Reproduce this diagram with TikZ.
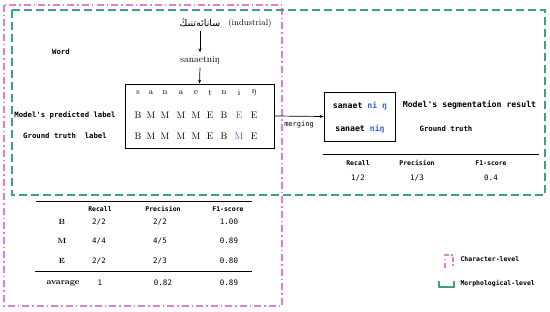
\documentclass[tikz,border=0pt]{standalone}
\usepackage{fontspec}
\setmonofont{DejaVu Sans Mono}
\newfontfamily\arabicfont[Script=Arabic]{DejaVu Sans}
\TeXXeTstate=1
\usepackage{tikz}
\usetikzlibrary{arrows.meta,positioning}
\definecolor{charpink}{RGB}{228,120,228}
\definecolor{morphteal}{RGB}{60,160,145}
\definecolor{segblue}{RGB}{50,100,215}

\begin{document}
\begin{tikzpicture}[x=1pt, y=-1pt,
    charframe/.style={draw=charpink, line width=1.5pt,
                      dash pattern=on 7pt off 3pt on 1.5pt off 3pt},
    morphframe/.style={draw=morphteal, line width=1.5pt,
                       dash pattern=on 8pt off 4pt},
    tag/.style={font=\ttfamily\bfseries\fontsize{7.3}{8}\selectfont},
    head/.style={font=\ttfamily\bfseries\fontsize{6.5}{7}\selectfont},
    val/.style={font=\ttfamily\fontsize{7.5}{8}\selectfont},
    letter/.style={font=\fontsize{9.5}{10}\selectfont},
    arrow/.style={-{Stealth[length=4pt,width=3pt]}, line width=0.7pt},
  ]
  \useasboundingbox (0,0) rectangle (550,312);
  %% Frames
  \draw[charframe]  (4,5) rectangle (282,306);
  \draw[morphframe] (12,10) rectangle (545,195);
  %% Word and its transcription
  \node[letter] (uyword) at (200,23) {\arabicfont\beginR سانائەتنىڭ\endR};
  \node[font=\fontsize{8.5}{9}\selectfont, right=1pt of uyword] {(industrial)};
  \node[letter] (latword) at (200,60) {sanaetniŋ};
  \draw[arrow] (uyword.south) -- (latword.north);
  %% Character labels
  \node[draw, line width=0.7pt, minimum width=149pt, minimum height=64pt]
        (seqbox) at (199.5,116) {};
  \draw[arrow] (latword.south) -- (seqbox.north);
  \foreach \i/\x/\c/\p/\g/\col in {1/138/s/B/B/black, 2/151/a/M/M/black,
      3/165/n/M/M/black, 4/181/a/M/M/black, 5/196/e/M/M/black,
      6/210/t/E/E/black, 7/224/n/B/B/black, 8/239/i/E/M/segblue,
      9/254/ŋ/E/E/black}{
    \node[letter, font=\fontsize{8.5}{9}\selectfont] (chr\i) at (\x,93) {\c};
    \node[letter, text=\col] (pred\i) at (\x,115) {\p};
    \node[letter, text=\col] (gold\i) at (\x,136) {\g};
  }
  \node[tag] (wordtag) at (61,52) {Word};
  \node[tag] (predtag) at (65,115) {Model's predicted label};
  \node[tag] (goldtag) at (65,136) {Ground truth\ \ label};
  %% Merging into segments
  \node[draw, line width=0.7pt, minimum width=71pt, minimum height=49pt]
        (segbox) at (359.5,116.5) {};
  \draw[arrow] (seqbox.east) -- (segbox.west)
        node[midway, below=1pt, val, font=\ttfamily\fontsize{7}{8}\selectfont] {merging};
  \node[tag, font=\ttfamily\bfseries\fontsize{8.2}{9}\selectfont] (predseg)
        at (360,106) {sanaet \textcolor{segblue}{ni ŋ}};
  \node[tag, font=\ttfamily\bfseries\fontsize{8.2}{9}\selectfont] (goldseg)
        at (360,129) {sanaet \textcolor{segblue}{niŋ}};
  \node[tag, font=\ttfamily\bfseries\fontsize{8.2}{9}\selectfont] (predsegtag)
        at (469.5,105) {Model's segmentation result};
  \node[tag] (goldsegtag) at (446,129) {Ground truth};
  %% Morphological-level scores
  \coordinate (mtopL) at (323,154);
  \coordinate (mtopR) at (539,154);
  \draw[line width=0.7pt] (mtopL) -- (mtopR);
  \foreach \x/\h/\v in {358/Recall/{1/2}, 417/Precision/{1/3}, 491/F1-score/{0.4}}{
    \node[head] at (\x,163) {\h};
    \node[val] at (\x,178) {\v};
  }
  %% Character-level scores
  \coordinate (ctopL) at (36,201);
  \coordinate (ctopR) at (252,201);
  \coordinate (cmidL) at (35,271);
  \coordinate (cmidR) at (252,271);
  \draw[line width=0.7pt] (ctopL) -- (ctopR);
  \draw[line width=0.7pt] (cmidL) -- (cmidR);
  \foreach \x/\h in {100/Recall, 163/Precision, 228/F1-score}{
    \node[head] at (\x,209) {\h};
  }
  \foreach \y/\t/\r/\p/\f in {222/B/{2/2}/{2/2}/{1.00}, 241/M/{4/4}/{4/5}/{0.89},
      261/E/{2/2}/{2/3}/{0.80}}{
    \node[font=\bfseries\fontsize{7.5}{8}\selectfont] at (62,\y) {\t};
    \node[val] at (99,\y) {\r};
    \node[val] at (160,\y) {\p};
    \node[val] at (229,\y) {\f};
  }
  \node[font=\bfseries\fontsize{8.5}{9}\selectfont] (avgtag) at (63,283) {avarage};
  \node[val] at (100,283) {1};
  \node[val] at (163,283) {0.82};
  \node[val] at (229,283) {0.89};
  %% Legend
  \draw[charframe, dash pattern=on 5pt off 2.5pt on 1.5pt off 2.5pt]
        (445,268) -- (445,255) -- (453,255) -- (453,268);
  \node[head, anchor=west] (charleg) at (457,259) {Character-level};
  \draw[morphframe, dash pattern=on 30pt off 2pt]
        (439,281) -- (439,287) -- (454,287) -- (454,281);
  \node[head, anchor=west] (morphleg) at (457,284) {Morphological-level};
\end{tikzpicture}
\end{document}
